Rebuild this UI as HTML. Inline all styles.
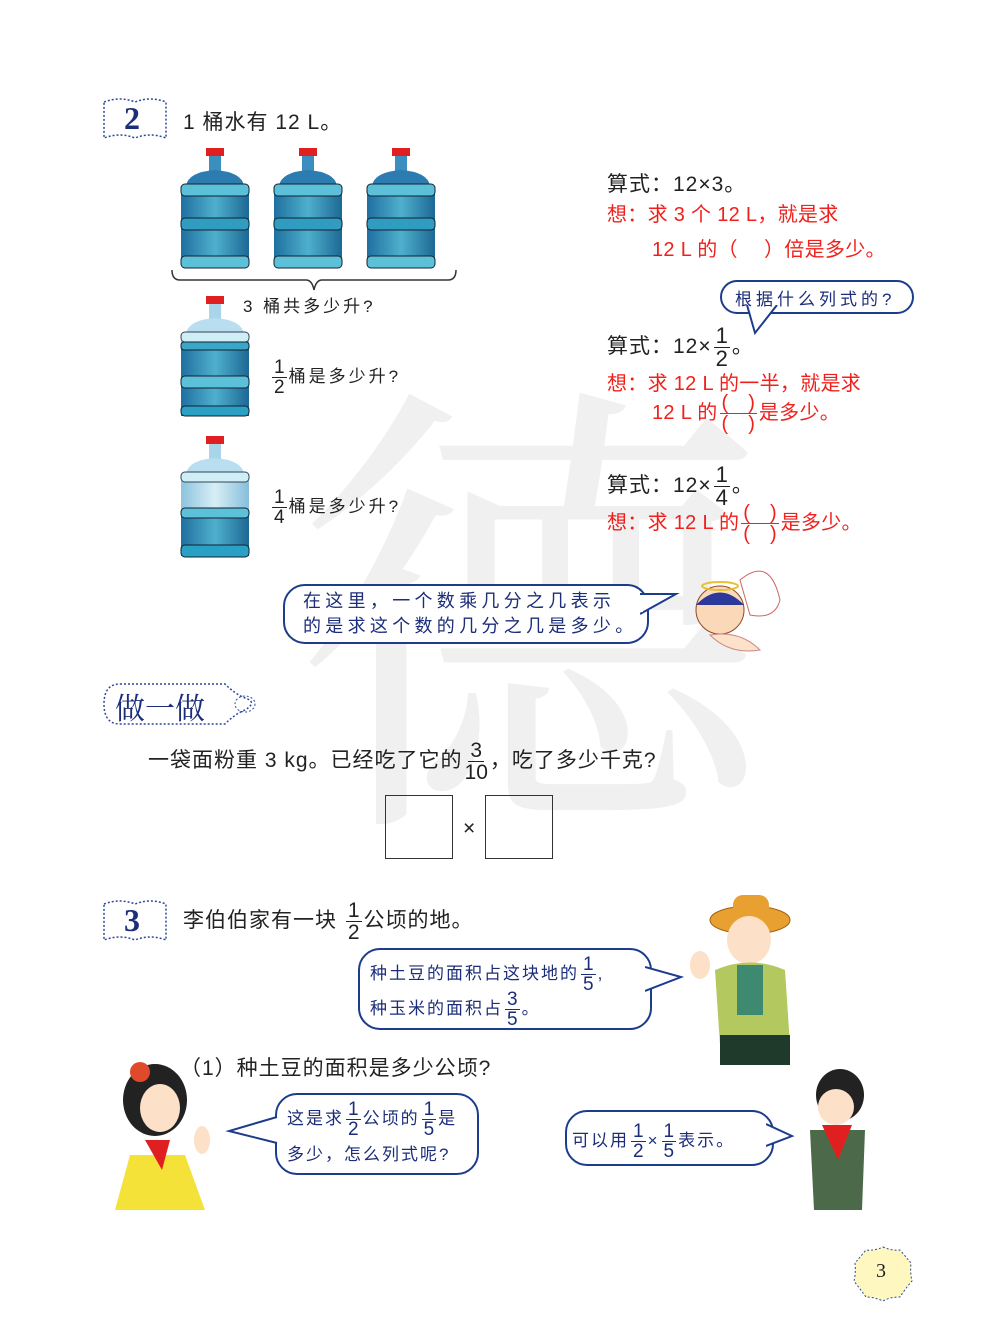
<!DOCTYPE html>
<html><head><meta charset="utf-8"><style>
body{margin:0}
#p{position:relative;width:1000px;height:1336px;background:#fff;overflow:hidden;font-family:"Liberation Sans","Noto Sans CJK SC",sans-serif;color:#222}
.a{position:absolute;white-space:nowrap}
.t{font-size:21px;letter-spacing:1px}
.r{color:#f0201c;font-size:20px;letter-spacing:0.3px}
.b{color:#1c2d7a;font-size:17px;letter-spacing:2px}
.f{display:inline-flex;flex-direction:column;align-items:center;vertical-align:middle;line-height:1;margin:0 2px;letter-spacing:0}
.f span:first-child{border-bottom:1.6px solid currentColor;padding:0 2px}
.bub{position:absolute;border:2px solid #1c3c8c;border-radius:22px;background:#fff}
.box{position:absolute;border:1.5px solid #333;width:66px;height:62px}
</style></head><body><div id="p">
<div class="a" style="left:295px;top:350px;font-size:470px;color:#f0f0f0;font-family:'Noto Serif CJK SC',serif;line-height:1">德</div>

<svg class="a" style="left:100px;top:96px" width="70" height="50"><path d="M4 6 Q20 0 35 6 Q50 0 66 6 L66 42 Q50 36 35 42 Q20 36 4 42Z" fill="none" stroke="#2b4a9a" stroke-width="1.5" stroke-dasharray="2 2"/></svg>
<div class="a" style="left:124px;top:100px;font-size:32px;font-weight:bold;color:#1c2d7a;font-family:'Liberation Serif',serif">2</div>
<div class="a t" style="left:183px;top:106px">1 桶水有 12 L。</div>

<svg class="a" style="left:0;top:0" width="600" height="580">
<defs>
<linearGradient id="g" x1="0" x2="1"><stop offset="0" stop-color="#1f6fa0"/><stop offset=".5" stop-color="#4fb0cc"/><stop offset="1" stop-color="#1d6895"/></linearGradient>
<linearGradient id="g2" x1="0" x2="1"><stop offset="0" stop-color="#8cc3de"/><stop offset=".5" stop-color="#d8eef6"/><stop offset="1" stop-color="#86bedb"/></linearGradient>
<g id="bt"><rect x="26" y="0" width="18" height="8" fill="#e02020"/><rect x="29" y="8" width="12" height="16" fill="#3a8fbf"/><path d="M6 38 Q8 24 35 22 Q62 24 64 38Z" fill="#2d7cb0"/><rect x="1" y="36" width="68" height="84" rx="6" fill="url(#g)"/><rect x="1" y="36" width="68" height="12" rx="4" fill="#5cc0d8" stroke="#123" stroke-width="1"/><rect x="1" y="70" width="68" height="12" rx="4" fill="#2f9cc0" stroke="#123" stroke-width="1"/><rect x="1" y="108" width="68" height="12" rx="4" fill="#5cc0d8" stroke="#123" stroke-width="1"/></g>
<g id="bt2"><rect x="26" y="0" width="18" height="8" fill="#e02020"/><rect x="29" y="8" width="12" height="16" fill="#a9d5ea"/><path d="M6 38 Q8 24 35 22 Q62 24 64 38Z" fill="#b9def0"/><rect x="1" y="36" width="68" height="84" rx="6" fill="url(#g2)"/><rect x="1" y="36" width="68" height="10" rx="4" fill="#cfeef6" stroke="#345" stroke-width="1"/></g>
</defs>
<use href="#bt" x="180" y="148"/><use href="#bt" x="273" y="148"/><use href="#bt" x="366" y="148"/>
<path d="M172 270 Q172 280 180 280 L306 280 Q312 280 314 290 Q316 280 322 280 L448 280 Q456 280 456 270" fill="none" stroke="#333" stroke-width="1.5"/>
<use href="#bt2" x="180" y="296"/>
<rect x="181" y="344" width="68" height="72" fill="url(#g)"/>
<rect x="181" y="342" width="68" height="8" rx="3" fill="#3aa6c8" stroke="#123"/>
<rect x="181" y="376" width="68" height="12" rx="4" fill="#5cc0d8" stroke="#123"/>
<rect x="181" y="406" width="68" height="10" rx="4" fill="#2aa0c4" stroke="#123"/>
<use href="#bt2" x="180" y="436"/>
<rect x="181" y="512" width="68" height="44" fill="url(#g)"/>
<rect x="181" y="508" width="68" height="10" rx="4" fill="#5cc0d8" stroke="#123"/>
<rect x="181" y="545" width="68" height="12" rx="4" fill="#2aa0c4" stroke="#123"/>
</svg>
<div class="a" style="left:243px;top:292px;font-size:17px;letter-spacing:3px">3 桶共多少升?</div>
<div class="a" style="left:270px;top:358px;font-size:17px;letter-spacing:3px"><span class="f" style="font-size:19px"><span>1</span><span>2</span></span>桶是多少升?</div>
<div class="a" style="left:270px;top:488px;font-size:17px;letter-spacing:3px"><span class="f" style="font-size:19px"><span>1</span><span>4</span></span>桶是多少升?</div>

<div class="a t" style="left:607px;top:168px">算式：12×3。</div>
<div class="a r" style="left:607px;top:198px">想：求 3 个 12 L，就是求</div>
<div class="a r" style="left:652px;top:233px">12 L 的（　 ）倍是多少。</div>

<div class="bub" style="left:720px;top:280px;width:190px;height:30px"></div>
<svg class="a" style="left:745px;top:305px" width="40" height="35"><path d="M2 0 L10 28 L32 0" fill="#fff" stroke="#1c3c8c" stroke-width="2"/><rect x="4" y="-4" width="26" height="5" fill="#fff"/></svg>
<div class="a b" style="left:735px;top:285px;letter-spacing:4px">根据什么列式的?</div>
<div class="a t" style="left:607px;top:325px">算式：12×<span class="f" style="font-size:22px"><span>1</span><span>2</span></span>。</div>
<div class="a r" style="left:607px;top:367px">想：求 12 L 的一半，就是求</div>
<div class="a r" style="left:652px;top:393px">12 L 的<span class="f"><span>(　)</span><span>(　)</span></span>是多少。</div>

<div class="a t" style="left:607px;top:464px">算式：12×<span class="f" style="font-size:22px"><span>1</span><span>4</span></span>。</div>
<div class="a r" style="left:607px;top:503px">想：求 12 L 的<span class="f"><span>(　)</span><span>(　)</span></span>是多少。</div>

<div class="bub" style="left:283px;top:584px;width:362px;height:56px"></div>
<svg class="a" style="left:640px;top:590px" width="40" height="30"><path d="M0 4 L36 4 L0 24" fill="#fff" stroke="#1c3c8c" stroke-width="2"/><rect x="-2" y="6" width="5" height="16" fill="#fff"/></svg>
<div class="a b" style="left:303px;top:589px;line-height:25px;font-size:18px;letter-spacing:4.3px">在这里，一个数乘几分之几表示<br>的是求这个数的几分之几是多少。</div>
<svg class="a" style="left:680px;top:560px" width="110" height="100"><path d="M60 20 Q90 -5 100 40 Q95 60 70 55Z" fill="#fff" stroke="#c66" stroke-width="1"/><circle cx="40" cy="50" r="24" fill="#fbd9b8" stroke="#8a4a2a"/><path d="M16 45 Q40 20 64 45" fill="#2b3a9a"/><ellipse cx="40" cy="26" rx="18" ry="4" fill="none" stroke="#e8c030" stroke-width="2"/><path d="M30 75 Q60 70 80 90 Q50 95 30 75Z" fill="#fbe2c8" stroke="#c88"/></svg>

<svg class="a" style="left:100px;top:680px" width="160" height="50"><path d="M20 4 L125 4 Q135 14 145 18 Q158 22 145 30 Q135 34 125 44 L20 44 Q4 44 4 24 Q4 4 20 4Z" fill="none" stroke="#2b4a9a" stroke-width="1.5" stroke-dasharray="2 2"/><ellipse cx="145" cy="24" rx="10" ry="8" fill="none" stroke="#2b4a9a" stroke-dasharray="2 2"/></svg>
<div class="a" style="left:115px;top:684px;font-size:30px;color:#1c2d7a;font-family:'Noto Serif CJK SC',serif">做一做</div>
<div class="a t" style="left:148px;top:740px">一袋面粉重 3 kg。已经吃了它的<span class="f"><span>3</span><span>10</span></span>，吃了多少千克?</div>
<div class="box" style="left:385px;top:795px"></div>
<div class="a t" style="left:463px;top:817px">×</div>
<div class="box" style="left:485px;top:795px"></div>

<svg class="a" style="left:100px;top:898px" width="70" height="50"><path d="M4 6 Q20 0 35 6 Q50 0 66 6 L66 42 Q50 36 35 42 Q20 36 4 42Z" fill="none" stroke="#2b4a9a" stroke-width="1.5" stroke-dasharray="2 2"/></svg>
<div class="a" style="left:124px;top:902px;font-size:32px;font-weight:bold;color:#1c2d7a;font-family:'Liberation Serif',serif">3</div>
<div class="a t" style="left:183px;top:900px">李伯伯家有一块 <span class="f"><span>1</span><span>2</span></span>公顷的地。</div>

<div class="bub" style="left:358px;top:948px;width:290px;height:78px"></div>
<svg class="a" style="left:645px;top:965px" width="40" height="30"><path d="M0 2 L36 12 L0 26" fill="#fff" stroke="#1c3c8c" stroke-width="2"/><rect x="-3" y="4" width="5" height="20" fill="#fff"/></svg>
<div class="a b" style="left:370px;top:955px">种土豆的面积占这块地的<span class="f" style="font-size:19px"><span>1</span><span>5</span></span>,</div>
<div class="a b" style="left:370px;top:990px">种玉米的面积占<span class="f" style="font-size:19px"><span>3</span><span>5</span></span>。</div>

<div class="a t" style="left:180px;top:1052px">（1）种土豆的面积是多少公顷?</div>
<div class="bub" style="left:275px;top:1093px;width:200px;height:78px"></div>
<svg class="a" style="left:225px;top:1115px" width="55" height="30"><path d="M52 2 L4 16 L52 28" fill="#fff" stroke="#1c3c8c" stroke-width="2"/><rect x="50" y="4" width="6" height="22" fill="#fff"/></svg>
<div class="a b" style="left:287px;top:1100px">这是求<span class="f" style="font-size:19px"><span>1</span><span>2</span></span>公顷的<span class="f" style="font-size:19px"><span>1</span><span>5</span></span>是</div>
<div class="a b" style="left:287px;top:1140px">多少，怎么列式呢?</div>

<div class="bub" style="left:565px;top:1110px;width:205px;height:52px"></div>
<svg class="a" style="left:766px;top:1122px" width="30" height="30"><path d="M0 2 L26 14 L0 24" fill="#fff" stroke="#1c3c8c" stroke-width="2"/><rect x="-3" y="4" width="5" height="18" fill="#fff"/></svg>
<div class="a b" style="left:572px;top:1122px">可以用<span class="f" style="font-size:19px"><span>1</span><span>2</span></span>×<span class="f" style="font-size:19px"><span>1</span><span>5</span></span>表示。</div>

<svg class="a" style="left:110px;top:1060px" width="110" height="150"><ellipse cx="45" cy="40" rx="32" ry="36" fill="#222"/><circle cx="30" cy="12" r="10" fill="#e04a2a"/><ellipse cx="50" cy="48" rx="20" ry="24" fill="#fde0c8"/><path d="M20 95 L75 95 L95 150 L5 150Z" fill="#f4e238"/><path d="M35 80 L60 80 L52 110Z" fill="#e02020"/><ellipse cx="92" cy="80" rx="8" ry="14" fill="#fde0c8"/></svg>
<svg class="a" style="left:685px;top:885px" width="130" height="180"><ellipse cx="65" cy="35" rx="40" ry="14" fill="#e8a030" stroke="#a06010"/><rect x="48" y="10" width="36" height="25" rx="10" fill="#e8a030"/><ellipse cx="64" cy="55" rx="22" ry="24" fill="#fde0c8"/><path d="M30 85 Q65 70 100 85 L105 160 L35 160Z" fill="#b4c860"/><rect x="52" y="80" width="26" height="50" fill="#3d8a70"/><rect x="35" y="150" width="70" height="30" fill="#1f3a2a"/><ellipse cx="15" cy="80" rx="10" ry="14" fill="#fde0c8"/></svg>
<svg class="a" style="left:800px;top:1065px" width="70" height="145"><ellipse cx="40" cy="30" rx="24" ry="26" fill="#222"/><ellipse cx="36" cy="42" rx="18" ry="18" fill="#fde0c8"/><path d="M10 65 L65 65 L62 145 L14 145Z" fill="#4c6a4a"/><path d="M22 60 L52 60 L38 95Z" fill="#e02020"/></svg>

<svg class="a" style="left:852px;top:1245px" width="62" height="58"><path d="M31 2 Q40 6 48 5 Q54 12 59 18 Q58 28 60 36 Q53 44 48 52 Q38 52 31 56 Q22 52 14 52 Q8 44 2 36 Q4 28 3 18 Q8 12 14 5 Q22 6 31 2Z" fill="#fff7c0" stroke="#2b4a9a" stroke-dasharray="2 2"/></svg>
<div class="a" style="left:876px;top:1260px;font-size:20px;font-family:'Liberation Serif',serif">3</div>
</div></body></html>
